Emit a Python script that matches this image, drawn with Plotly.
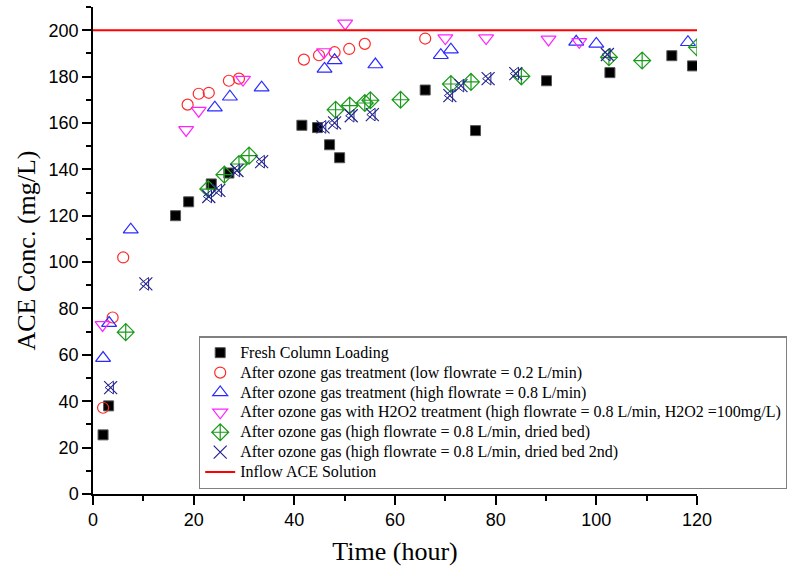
import plotly.graph_objects as go

# Fresh Column Loading
fresh_x = [2.0, 3.1, 16.4, 19.0, 23.5, 27.0, 41.5, 44.6, 47.0, 49.0, 66.0, 76.0, 90.1, 102.7, 115.0, 119.1]
fresh_y = [25.5, 38.0, 120.0, 126.0, 133.7, 138.4, 159.0, 158.0, 150.6, 145.0, 174.2, 156.7, 178.2, 181.7, 189.0, 184.6]

# After ozone gas treatment (low flowrate)
low_x = [2.0, 3.9, 6.0, 18.8, 21.0, 23.0, 27.0, 29.0, 41.9, 44.9, 48.0, 50.9, 54.0, 66.0]
low_y = [37.2, 76.1, 102.0, 167.9, 172.6, 173.0, 178.2, 179.1, 187.3, 189.2, 190.5, 191.9, 194.1, 196.4]

# After ozone gas treatment (high flowrate)
high_x = [2.0, 3.2, 7.5, 24.2, 27.2, 33.5, 46.0, 48.0, 56.1, 69.1, 71.1, 96.0, 100.0, 118.2]
high_y = [58.6, 73.7, 114.0, 166.6, 171.3, 175.2, 183.3, 187.0, 185.2, 189.2, 191.6, 195.0, 194.1, 194.8]

# After ozone gas with H2O2 treatment
h2o2_x = [1.9, 18.5, 21.0, 29.8, 45.9, 50.1, 70.0, 78.1, 90.5, 96.6]
h2o2_y = [72.9, 157.0, 165.3, 178.7, 190.6, 202.9, 196.6, 196.6, 196.0, 195.0]

# After ozone gas (dried bed)
dried_x = [6.5, 22.9, 26.1, 29.0, 31.0, 48.2, 51.0, 54.0, 55.1, 61.1, 71.1, 75.1, 85.1, 102.5, 109.1, 120.0]
dried_y = [69.8, 131.5, 137.7, 142.3, 145.9, 165.7, 167.5, 168.6, 169.8, 170.0, 176.8, 177.7, 180.1, 188.3, 186.9, 192.6]

# After ozone gas (dried bed 2nd)
dried2_x = [3.5, 10.5, 23.0, 25.0, 28.6, 33.5, 45.7, 48.0, 51.3, 55.5, 70.9, 73.1, 78.5, 84.0, 102.2]
dried2_y = [45.9, 90.6, 128.3, 130.9, 139.5, 143.3, 158.3, 160.0, 163.1, 163.6, 171.8, 176.1, 179.1, 181.3, 189.5]

inflow_x = [0, 120]
inflow_y = [200, 200]

names = [
    "Fresh Column Loading",
    "After ozone gas treatment (low flowrate = 0.2 L/min)",
    "After ozone gas treatment (high flowrate = 0.8 L/min)",
    "After ozone gas with H2O2 treatment (high flowrate = 0.8 L/min, H2O2 =100mg/L)",
    "After ozone gas (high flowrate = 0.8 L/min, dried bed)",
    "After ozone gas (high flowrate = 0.8 L/min, dried bed 2nd)",
    "Inflow ACE Solution",
]


def big(t):
    return '<span style="font-size:16px">' + t + '</span>'


fig = go.Figure()
fig.add_trace(go.Scatter(x=fresh_x, y=fresh_y, mode="markers", name=big(names[0]),
                         marker=dict(symbol="square", size=10, color="black",
                                     line=dict(color="#555555", width=1))))
fig.add_trace(go.Scatter(x=low_x, y=low_y, mode="markers", name=big(names[1]),
                         marker=dict(symbol="circle-open", size=11, color="#ff2a2a",
                                     line=dict(width=1.2))))
fig.add_trace(go.Scatter(x=high_x, y=high_y, mode="markers", name=big(names[2]),
                         marker=dict(symbol="triangle-up-open", size=13, color="#2a2aff",
                                     line=dict(width=1.2))))
fig.add_trace(go.Scatter(x=h2o2_x, y=h2o2_y, mode="markers", name=big(names[3]),
                         marker=dict(symbol="triangle-down-open", size=13, color="#ff22ff",
                                     line=dict(width=1.2))))
fig.add_trace(go.Scatter(x=dried_x, y=dried_y, mode="markers", name=big(names[4]),
                         marker=dict(symbol="diamond-cross-open", size=13, color="#1a9a1a",
                                     line=dict(width=1.2))))
fig.add_trace(go.Scatter(x=dried2_x, y=dried2_y, mode="markers", name=big(names[5]),
                         legendgroup="g5",
                         marker=dict(symbol="x-thin-open", size=13, color="#24248f",
                                     line=dict(width=1.2))))
fig.add_trace(go.Scatter(x=dried2_x, y=dried2_y, mode="markers", showlegend=False,
                         legendgroup="g5", hoverinfo="skip",
                         marker=dict(symbol="triangle-left-open", size=11, color="#24248f",
                                     line=dict(width=1))))
fig.add_trace(go.Scatter(x=inflow_x, y=inflow_y, mode="lines", name=big(names[6]),
                         line=dict(color="red", width=2)))

fig.update_layout(
    width=787, height=574,
    margin=dict(l=93, r=90, t=7, b=80, autoexpand=False),
    paper_bgcolor="white", plot_bgcolor="white",
    showlegend=True,
    legend=dict(x=0.175, y=0.324, xanchor="left", yanchor="top",
                bordercolor="#808080", borderwidth=1.5,
                font=dict(family="Liberation Serif", size=13, color="black"),
                tracegroupgap=0, itemwidth=30, bgcolor="white"),
    font=dict(family="Liberation Sans", color="black"),
)
fig.update_xaxes(range=[0, 120], dtick=20, tick0=0, showgrid=False, zeroline=False,
                 showline=True, linecolor="black", linewidth=1.5,
                 ticks="outside", ticklen=9, tickwidth=1.5, tickcolor="black",
                 minor=dict(dtick=10, ticks="outside", ticklen=5, tickwidth=1.5, tickcolor="black"),
                 tickfont=dict(family="Liberation Sans", size=18),
                 title=dict(text="Time (hour)", font=dict(family="Liberation Serif", size=26),
                            standoff=12))
fig.update_yaxes(range=[0, 210], dtick=20, tick0=0, showgrid=False, zeroline=False,
                 showline=True, linecolor="black", linewidth=1.5,
                 ticks="outside", ticklen=9, tickwidth=1.5, tickcolor="black",
                 minor=dict(dtick=10, ticks="outside", ticklen=5, tickwidth=1.5, tickcolor="black"),
                 tickfont=dict(family="Liberation Sans", size=18),
                 title=dict(text="ACE Conc. (mg/L)", font=dict(family="Liberation Serif", size=26),
                            standoff=6))

fig.write_html("out.html")
